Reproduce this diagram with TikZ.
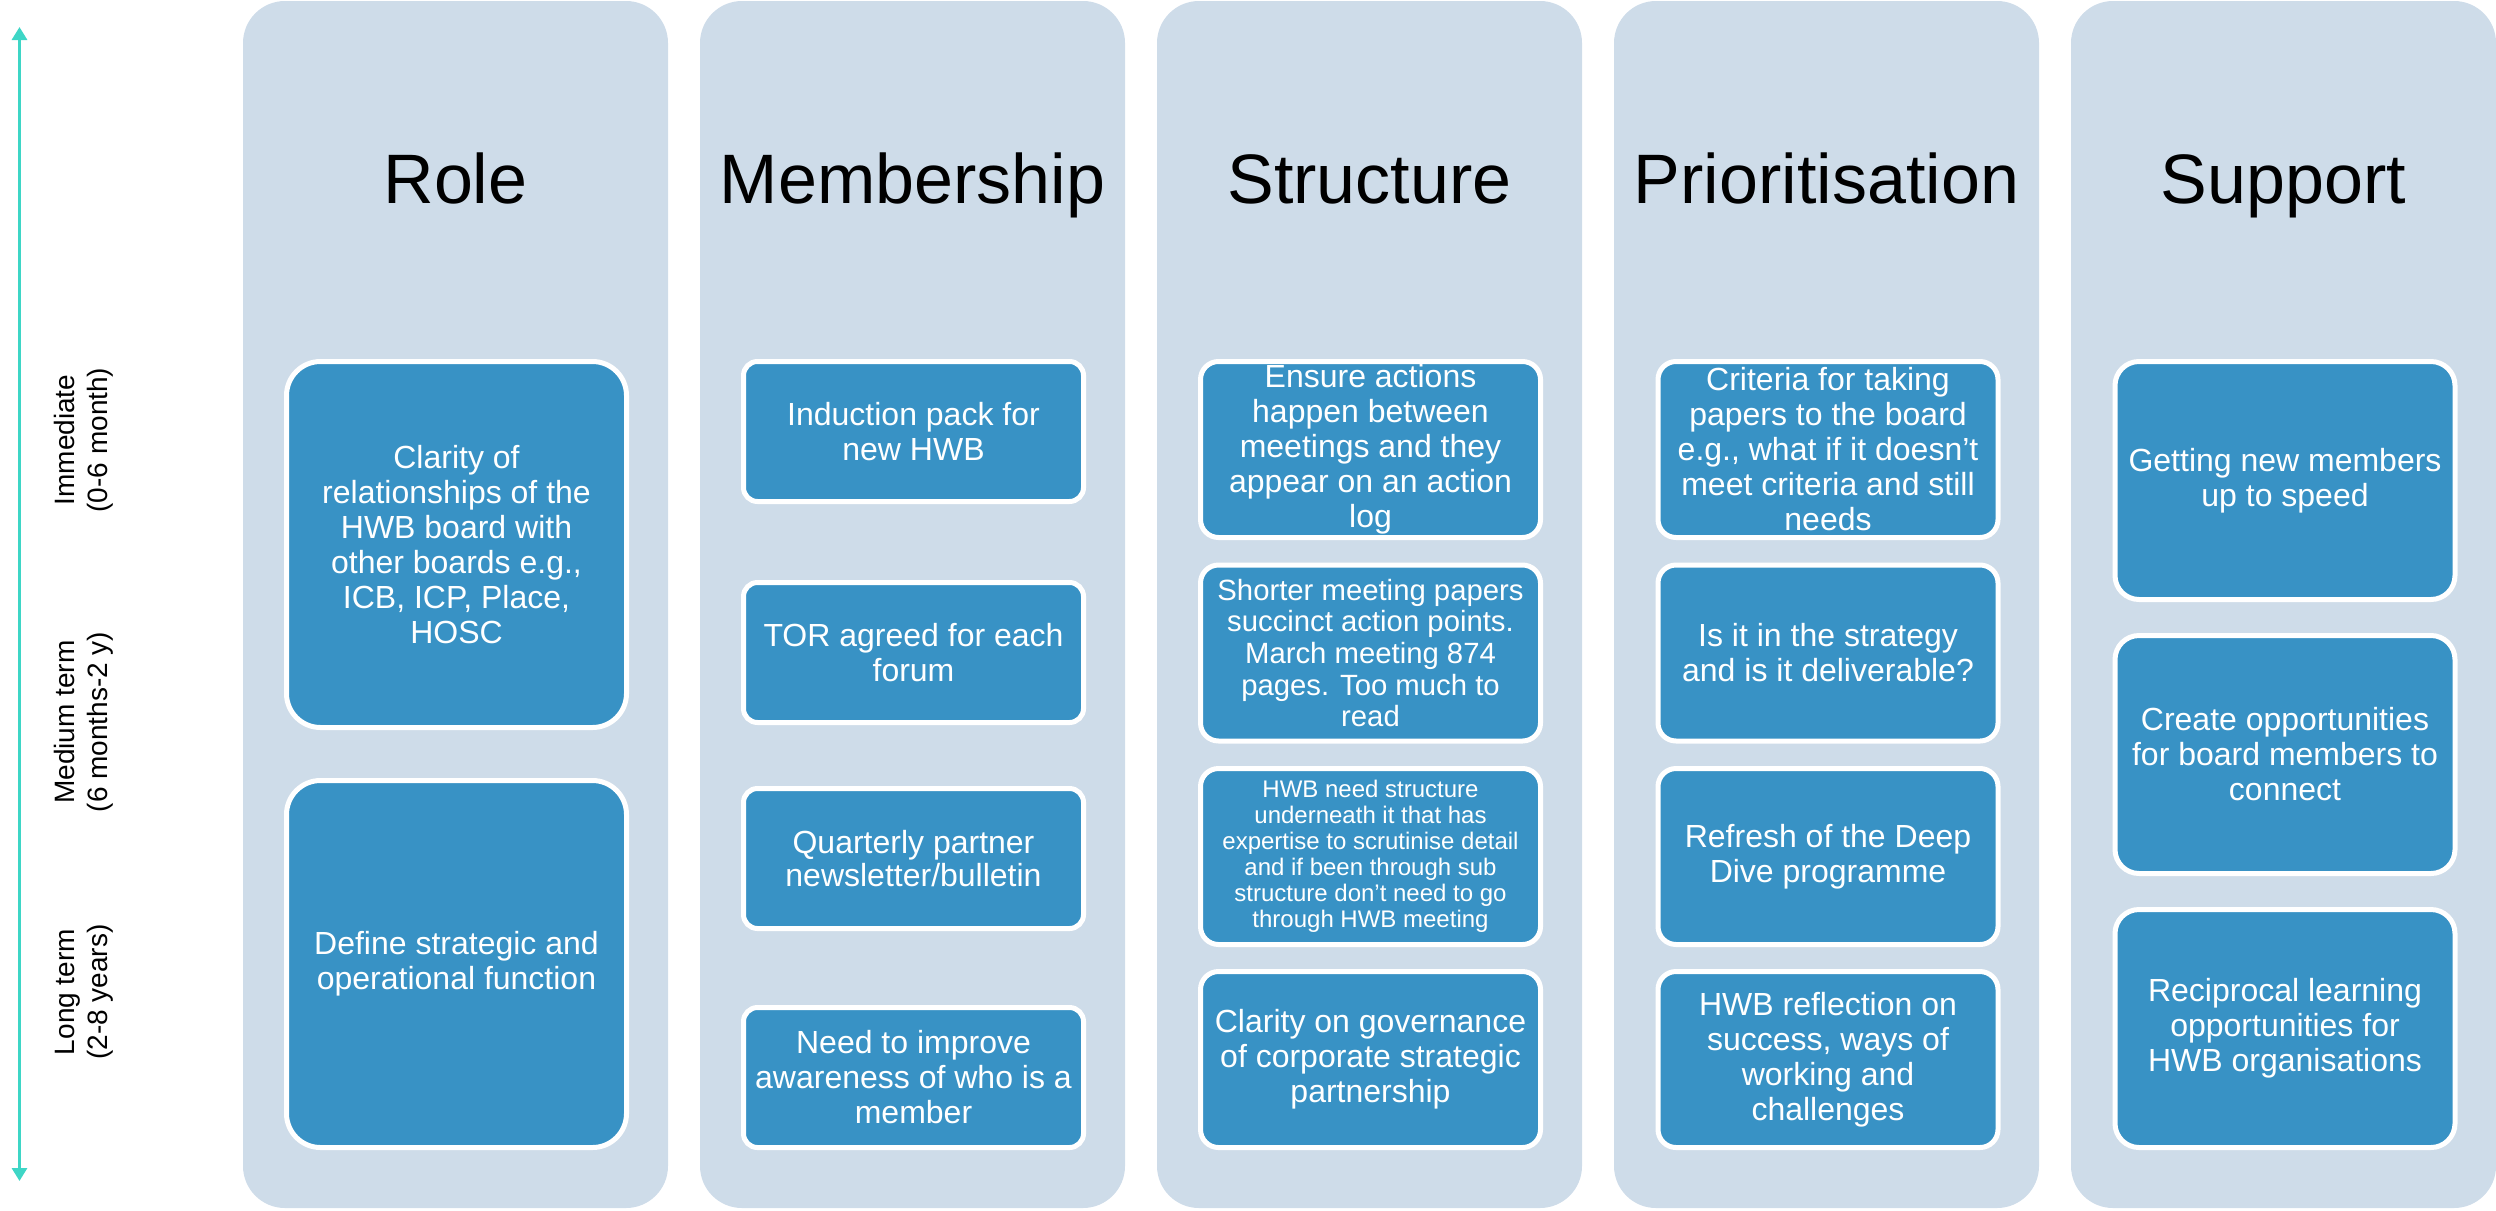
\documentclass[tikz,border=0pt]{standalone}
\usepackage{fontspec}
\setmainfont{Liberation Sans}
\usetikzlibrary{arrows.meta}
\definecolor{colbg}{RGB}{206,220,233}
\definecolor{boxblue}{RGB}{56,146,197}
\definecolor{arrowcol}{RGB}{62,214,198}
\begin{document}
\begin{tikzpicture}[x=1pt,y=-1pt,
  colbox/.style={fill=colbg, rounded corners=42pt, minimum width=425pt, minimum height=1207pt, inner sep=0pt},
  titletext/.style={font=\fontsize{70}{80}\selectfont, anchor=base, text=black, inner sep=0pt},
  card/.style={draw=white, line width=5pt, fill=boxblue, text=white, align=center, inner sep=0pt, minimum width=340pt, font=\fontsize{32}{35}\selectfont},
  cardS/.style={card, minimum height=140pt, rounded corners=14pt},
  cardM/.style={card, minimum height=176pt, rounded corners=18pt},
  cardL/.style={card, minimum height=238pt, rounded corners=24pt},
  cardXL/.style={card, minimum height=366pt, rounded corners=34pt},
  termlabel/.style={rotate=90, align=center, font=\fontsize{28}{33}\selectfont, inner sep=0pt}
]
\useasboundingbox (0,0) rectangle (2496,1210);

% time axis
\coordinate (atop) at (19.5,27);
\coordinate (abot) at (19.5,1181);
\draw[arrowcol, line width=3pt, {Triangle[width=15pt,length=13pt]}-{Triangle[width=15pt,length=13pt]}] (atop) -- (abot);
\node[termlabel] (t1) at (84,440) {Immediate\\(0-6 month)};
\node[termlabel] (t2) at (84,722) {Medium term\\(6 months-2 y)};
\node[termlabel] (t3) at (84,992) {Long term\\(2-8 years)};

% columns
\node[colbox] (c1) at (455.5,604.5) {};
\node[colbox] (c2) at (912.5,604.5) {};
\node[colbox] (c3) at (1369.5,604.5) {};
\node[colbox] (c4) at (1826.5,604.5) {};
\node[colbox] (c5) at (2283.5,604.5) {};

\node[titletext] (h1) at (455.5,203) {Role};
\node[titletext] (h2) at (912.5,203) {Membership};
\node[titletext] (h3) at (1369.5,203) {Structure};
\node[titletext] (h4) at (1826.5,203) {Prioritisation};
\node[titletext] (h5) at (2283.5,203) {Support};

% Role
\node[cardXL] (r1) at (456.5,544.5) {Clarity of\\relationships of the\\HWB board with\\other boards e.g.,\\ICB, ICP, Place,\\HOSC};
\node[cardXL, minimum height=367pt] (r2) at (456.5,964) {Define strategic and\\operational function};

% Membership
\node[cardS] (m1) at (913.5,431.5) {Induction pack for\\new HWB};
\node[cardS] (m2) at (913.5,652.5) {TOR agreed for each\\forum};
\node[cardS, font=\fontsize{32}{33}\selectfont] (m3) at (913.5,858.5) {Quarterly partner\\newsletter/bulletin};
\node[cardS] (m4) at (913.5,1077.5) {Need to improve\\awareness of who is a\\member};

% Structure
\node[cardM] (s1) at (1370.5,449.5) {Ensure actions\\happen between\\meetings and they\\appear on an action\\log};
\node[cardM, font=\fontsize{29.3}{31.7}\selectfont] (s2) at (1370.5,653) {Shorter meeting papers\\succinct action points.\\March meeting 874\\pages. Too much to\\read};
\node[cardM, font=\fontsize{24}{26}\selectfont] (s3) at (1370.5,856.5) {HWB need structure\\underneath it that has\\expertise to scrutinise detail\\and if been through sub\\structure don’t need to go\\through HWB meeting};
\node[cardM] (s4) at (1370.5,1059.5) {Clarity on governance\\of corporate strategic\\partnership};

% Prioritisation
\node[cardM] (p1) at (1828,449.5) {Criteria for taking\\papers to the board\\e.g., what if it doesn’t\\meet criteria and still\\needs};
\node[cardM] (p2) at (1828,653) {Is it in the strategy\\and is it deliverable?};
\node[cardM] (p3) at (1828,856.5) {Refresh of the Deep\\Dive programme};
\node[cardM] (p4) at (1828,1059.5) {HWB reflection on\\success, ways of\\working and\\challenges};

% Support
\node[cardL] (u1) at (2285,480.5) {Getting new members\\up to speed};
\node[cardL] (u2) at (2285,754.5) {Create opportunities\\for board members to\\connect};
\node[cardL] (u3) at (2285,1028.5) {Reciprocal learning\\opportunities for\\HWB organisations};
\end{tikzpicture}
\end{document}
